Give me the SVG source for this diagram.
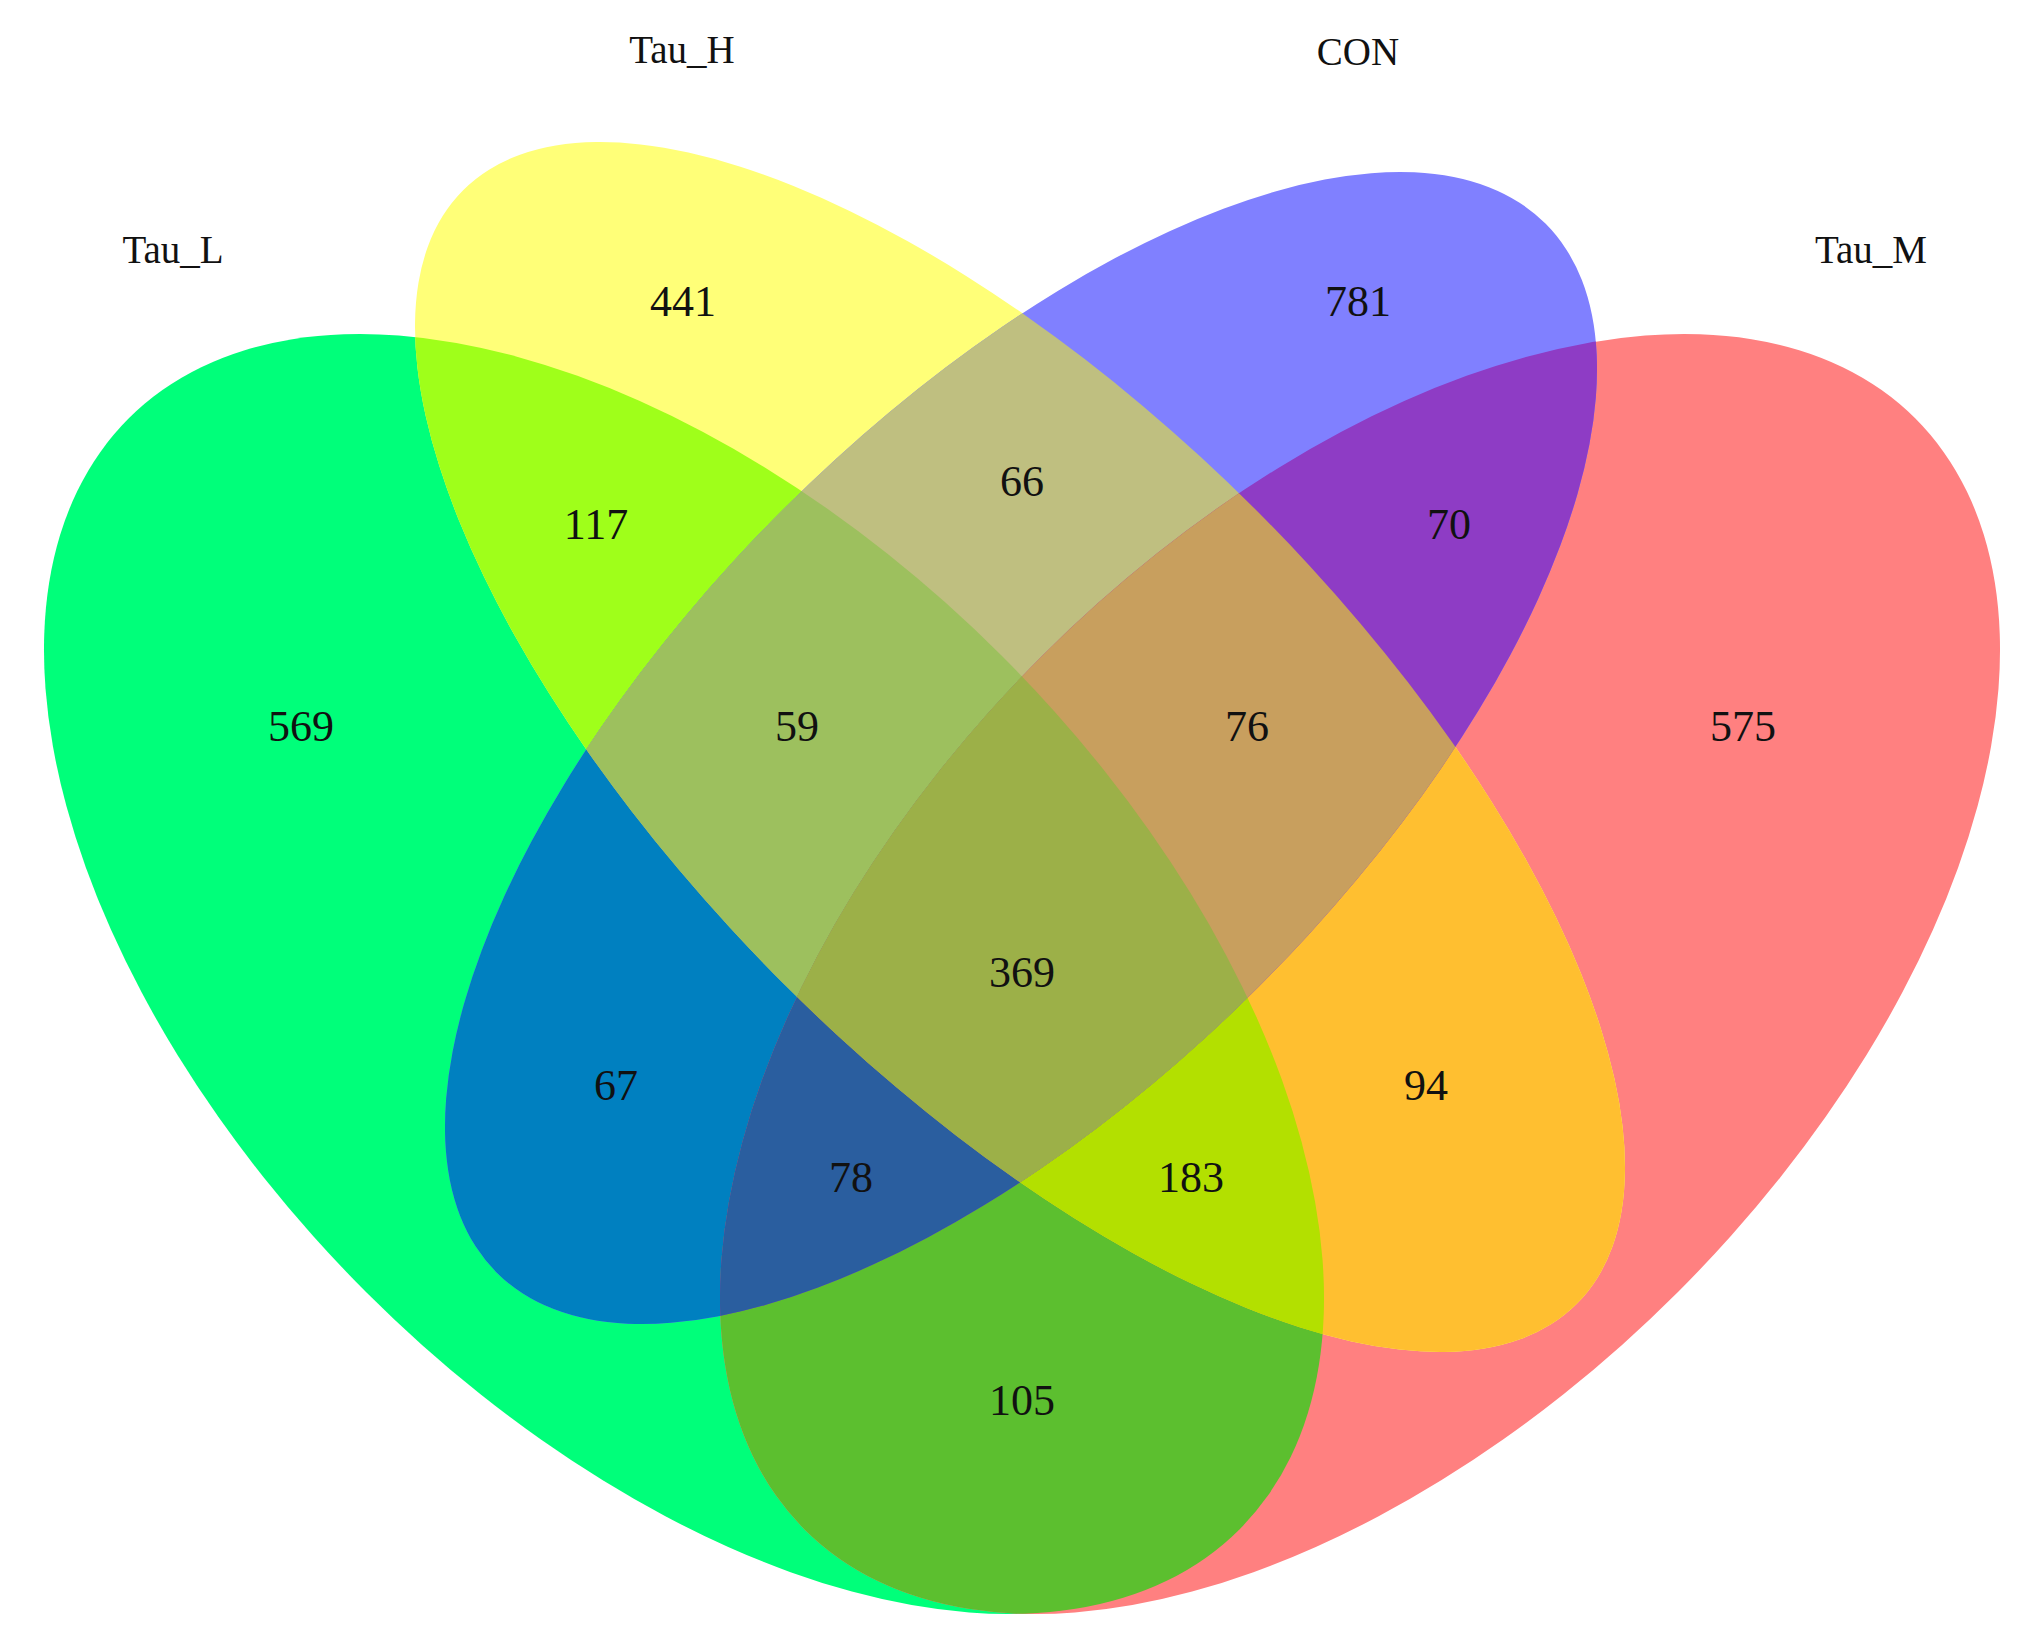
<svg xmlns="http://www.w3.org/2000/svg" width="2032" height="1651" viewBox="0 0 2032 1651">
<style>
.lbl{font-family:"Liberation Serif","Times New Roman",serif;font-size:39px;fill:#111;text-anchor:middle}
.num{font-family:"Liberation Serif","Times New Roman",serif;font-size:44px;fill:#111;text-anchor:middle}
</style>
<defs>
<ellipse id="eG" cx="684" cy="974" rx="785.5" ry="449.7" transform="rotate(45 684 974)"/>
<ellipse id="eR" cx="1360" cy="974" rx="785.5" ry="449.7" transform="rotate(-45 1360 974)"/>
<ellipse id="eY" cx="1020" cy="747" rx="787.5" ry="334.5" transform="rotate(45 1020 747)"/>
<ellipse id="eB" cx="1021" cy="748" rx="741.7" ry="336.9" transform="rotate(-45 1021 748)"/>
<clipPath id="cG"><use href="#eG"/></clipPath>
<clipPath id="cR"><use href="#eR"/></clipPath>
<clipPath id="cY"><use href="#eY"/></clipPath>
<clipPath id="cB"><use href="#eB"/></clipPath>
</defs>
<rect width="2032" height="1651" fill="#ffffff"/>
<g id="set-Tau_L"><use href="#eG" fill="#00FF7A"/></g>
<g id="set-Tau_M"><use href="#eR" fill="#FF8080"/></g>
<g id="set-Tau_H"><use href="#eY" fill="#FFFF78"/></g>
<g id="set-CON"><use href="#eB" fill="#8080FF"/></g>
<g id="overlaps">
<g clip-path="url(#cG)"><use href="#eY" fill="#9FFF1A"/></g>
<g clip-path="url(#cG)"><use href="#eB" fill="#0080C0"/></g>
<g clip-path="url(#cG)"><use href="#eR" fill="#5CBF2F"/></g>
<g clip-path="url(#cY)"><use href="#eB" fill="#BFBF80"/></g>
<g clip-path="url(#cY)"><use href="#eR" fill="#FFBF30"/></g>
<g clip-path="url(#cB)"><use href="#eR" fill="#8E3CC5"/></g>
<g clip-path="url(#cG)"><g clip-path="url(#cY)"><use href="#eB" fill="#9DC05E"/></g></g>
<g clip-path="url(#cG)"><g clip-path="url(#cY)"><use href="#eR" fill="#B3E000"/></g></g>
<g clip-path="url(#cG)"><g clip-path="url(#cB)"><use href="#eR" fill="#2A5E9F"/></g></g>
<g clip-path="url(#cY)"><g clip-path="url(#cB)"><use href="#eR" fill="#C89F5E"/></g></g>
<g clip-path="url(#cG)"><g clip-path="url(#cY)"><g clip-path="url(#cB)"><use href="#eR" fill="#9CB048"/></g></g></g>
</g>
<g id="labels">
<text class="lbl" x="173" y="263">Tau_L</text>
<text class="lbl" x="682" y="63">Tau_H</text>
<text class="lbl" x="1358" y="65">CON</text>
<text class="lbl" x="1871" y="263">Tau_M</text>
</g>
<g id="counts">
<text class="num" x="683" y="316">441</text>
<text class="num" x="1358" y="316">781</text>
<text class="num" x="1022" y="496">66</text>
<text class="num" x="596" y="539">117</text>
<text class="num" x="1449" y="539">70</text>
<text class="num" x="301" y="741">569</text>
<text class="num" x="797" y="741">59</text>
<text class="num" x="1247" y="741">76</text>
<text class="num" x="1743" y="741">575</text>
<text class="num" x="1022" y="987">369</text>
<text class="num" x="616" y="1100">67</text>
<text class="num" x="1426" y="1100">94</text>
<text class="num" x="851" y="1192">78</text>
<text class="num" x="1191" y="1192">183</text>
<text class="num" x="1022" y="1415">105</text>
</g>
</svg>
